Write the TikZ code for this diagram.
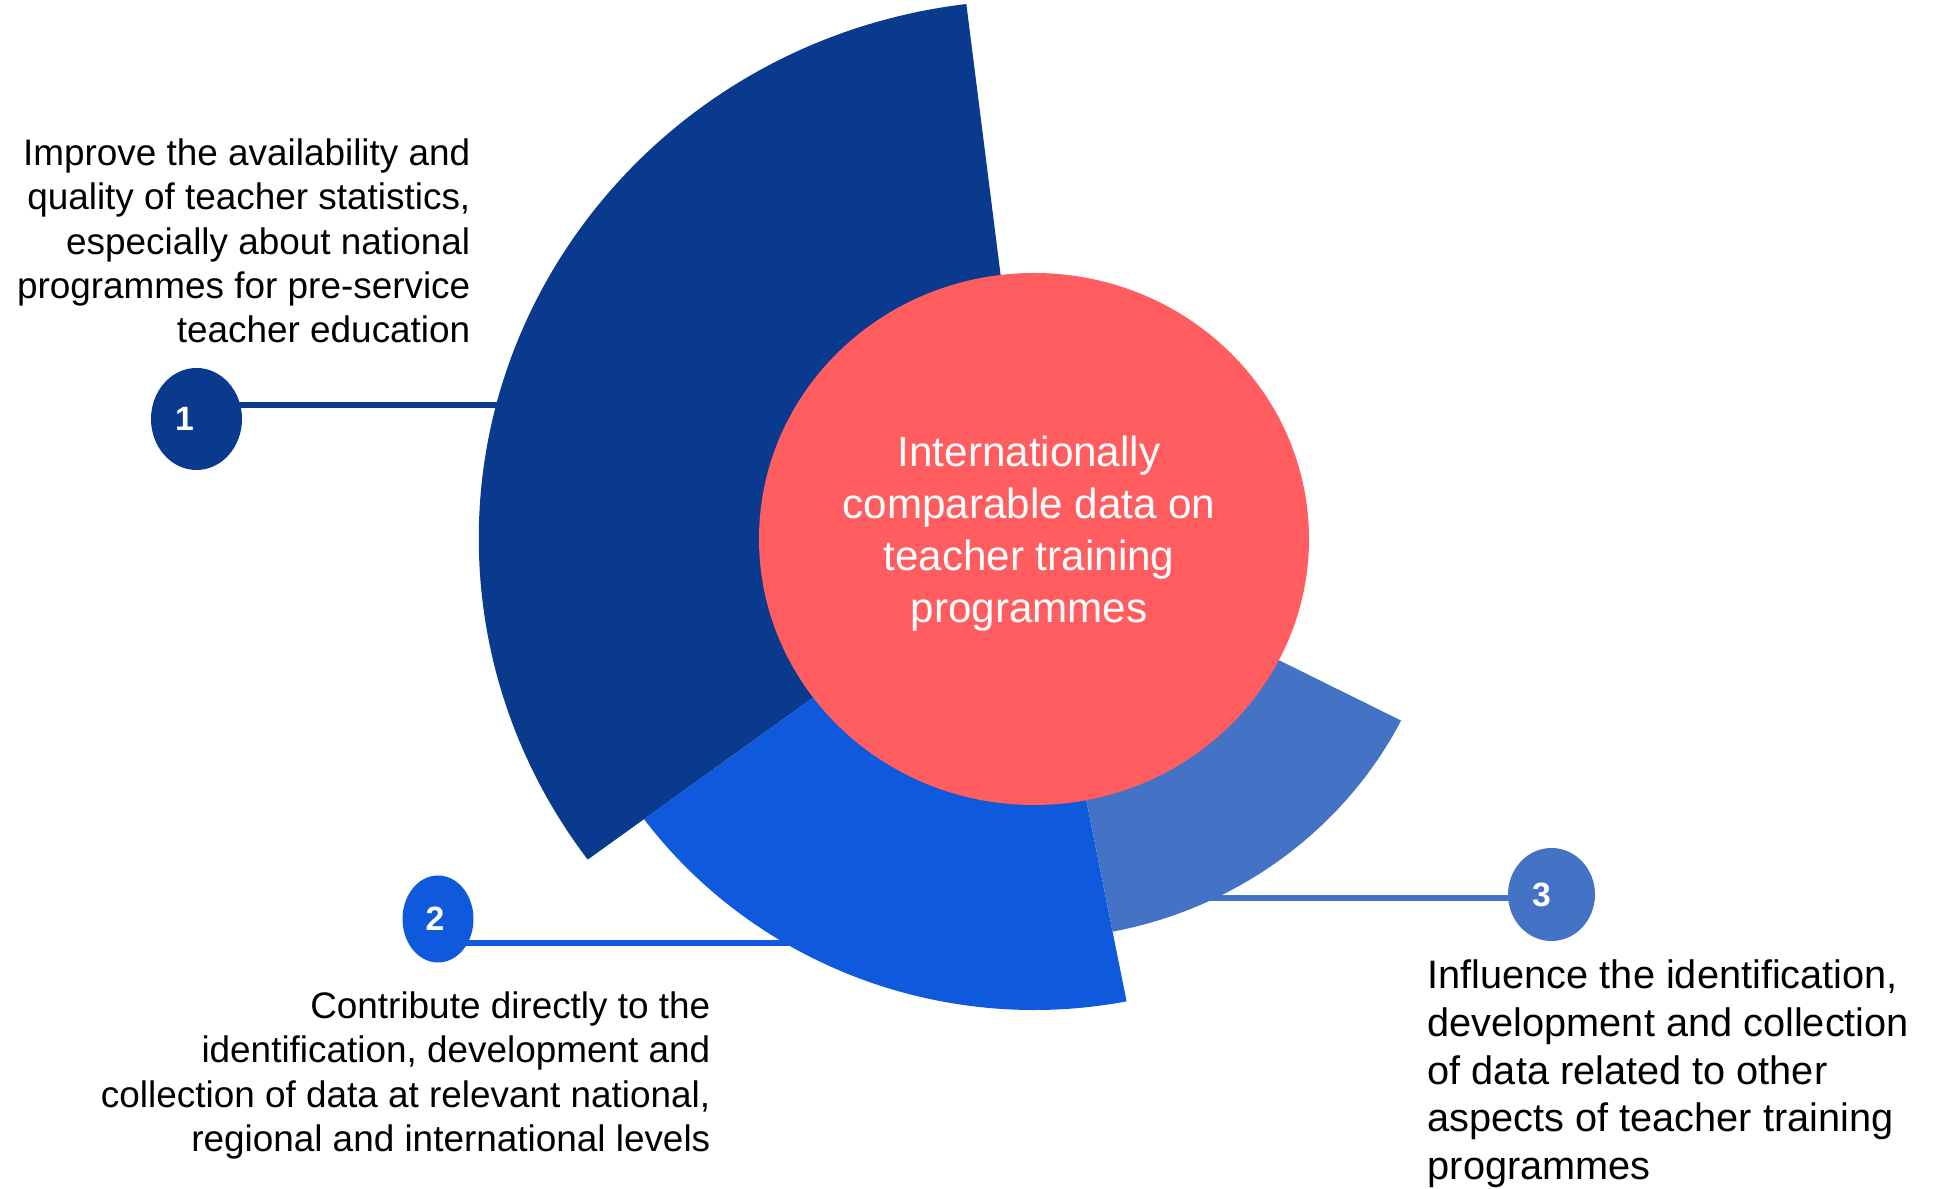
\documentclass[tikz,border=0pt]{standalone}
\usepackage{fontspec}
\setmainfont{Liberation Sans}
\usetikzlibrary{shapes.geometric}

\definecolor{darkblue}{HTML}{0A3A8E}
\definecolor{brightblue}{HTML}{0F5ADC}
\definecolor{midblue}{HTML}{4472C4}
\definecolor{coral}{HTML}{FF5D5F}

\pgfdeclarelayer{back}
\pgfsetlayers{back,main}

\tikzset{
  badge/.style={ellipse, inner sep=0pt},
  num/.style={inner sep=0pt, text=white, font=\fontsize{9.6}{11}\selectfont\bfseries},
  goal/.style={inner sep=0pt, font=\fontsize{10.5}{12.6}\selectfont},
  hub/.style={ellipse, fill=coral, inner sep=0pt, minimum width=5.50cm, minimum height=5.32cm},
  hubtext/.style={inner sep=0pt, text=white, align=center, font=\fontsize{12}{14.8}\selectfont},
  link/.style={line width=1.6pt},
}

\begin{document}
\begin{tikzpicture}
\useasboundingbox (0,0) rectangle (19.42,11.89);
\newcommand{\sectors}{97/216.5/5.39/darkblue, 216.5/281/4.71/brightblue, 281/333/4.00/midblue}
\newcommand{\badges}{1/1.965/7.70/0.91/1.02/darkblue/-0.12, 2/4.38/2.70/0.71/0.87/brightblue/-0.03, 3/15.515/2.945/0.87/0.93/midblue/-0.10}

\coordinate (c) at (10.34,6.50);
\coordinate (e1) at (5.3,7.84);
\coordinate (e2) at (8.2,2.46);
\coordinate (e3) at (12.0,2.91);

\foreach \n / \x / \y / \w / \h / \col / \dx in \badges {
  \node[badge, fill=\col, minimum width=\w cm, minimum height=\h cm] (b\n) at (\x,\y) {};
  \node[num] (n\n) at ([xshift=\dx cm]b\n.center) {\n};
}

\begin{pgfonlayer}{back}
\draw[link, darkblue] (e1 -| b1) -- (e1);
\draw[link, brightblue] (e2 -| b2) -- (e2);
\draw[link, midblue] (e3) -- (e3 -| b3);
\end{pgfonlayer}

\begin{scope}[shift={(c)}, xscale=1.03]
\foreach \a / \b / \r / \col in \sectors
  \fill[\col] (0,0) -- (\a:\r) arc[start angle=\a, end angle=\b, radius=\r] -- cycle;
\end{scope}

\node[hub] (hub) at (c) {};
\node[hubtext] (title) at ([shift={(-0.05,0.05)}]hub.center) {Internationally\\comparable data on\\teacher training\\programmes};

\node[goal, anchor=north east, align=right] (t1) at (4.71,10.51) {Improve the availability and\\quality of teacher statistics,\\especially about national\\programmes for pre-service\\teacher education};
\node[goal, anchor=north east, align=right] (t2) at (7.11,1.98) {Contribute directly to the\\identification, development and\\collection of data at relevant national,\\regional and international levels};
\node[goal, anchor=north west, align=left, font=\fontsize{11.3}{13.6}\selectfont] (t3) at (14.27,2.30) {Influence the identification,\\development and collection\\of data related to other\\aspects of teacher training\\programmes};
\end{tikzpicture}
\end{document}
